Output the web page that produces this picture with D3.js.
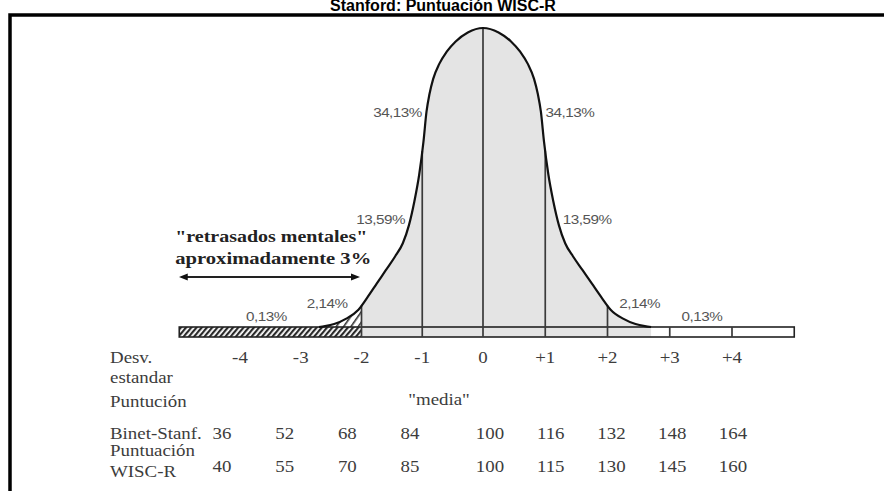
<!DOCTYPE html>
<html>
<head>
<meta charset="utf-8">
<script src="https://cdn.jsdelivr.net/npm/d3@7"></script>
<style>
	body { margin: 0; background: #fff; }
	svg { display: block; }
</style>
</head>
<body>
<svg id="chart"></svg>
<script>

var w = 884;
var h = 491;

// eje de desviaciones estandar
var sdTicks = [-4, -3, -2, -1, 0, 1, 2, 3, 4];
var sdLabels = ['-4', '-3', '-2', '-1', '0', '+1', '+2', '+3', '+4'];
var binetScores = [36, 52, 68, 84, 100, 116, 132, 148, 164];
var wiscScores = [40, 55, 70, 85, 100, 115, 130, 145, 160];

// curva (mitad derecha, se refleja)
var curveSd = [0, 0.25, 0.45, 0.6, 0.72, 0.82, 0.88, 0.93, 0.98, 1.05, 1.13, 1.22, 1.32, 1.45, 1.6, 1.75, 1.9, 2.05, 2.25, 2.45, 2.6, 2.7];
var curveH = [1.0, 0.985, 0.955, 0.92, 0.88, 0.83, 0.78, 0.72, 0.62, 0.51, 0.42, 0.34, 0.28, 0.235, 0.19, 0.145, 0.10, 0.058, 0.028, 0.01, 0.003, 0];

// porcentajes por intervalo
var pctFrom = [-4, -3, -2, -1, 0, 1, 2, 3];
var pctLabels = ['0,13%', '2,14%', '13,59%', '34,13%', '34,13%', '13,59%', '2,14%', '0,13%'];

var svg = d3.select('#chart')
	.attr('width', w)
	.attr('height', h);

var defs = svg.append('defs');

var x = d3.scaleLinear()
	.domain([-4, 0, 4])
	.range([240, 483, 732]);

var y = d3.scaleLinear()
	.domain([0, 1])
	.range([327, 28]);

var base = 337;

// columnas de la tabla de puntuaciones
var col = d3.scaleLinear()
	.domain([36, 84, 100, 164])
	.range([222, 410, 490, 733]);

var pts = [];
for (var i = curveSd.length - 1; i > 0; i--) pts.push([-curveSd[i], curveH[i]]);
for (var i = 0; i < curveSd.length; i++) pts.push([curveSd[i], curveH[i]]);

function hAt(s) {
	for (var i = 0; i < pts.length - 1; i++) {
		if (s >= pts[i][0] && s <= pts[i+1][0]) {
			var t = (s - pts[i][0]) / (pts[i+1][0] - pts[i][0]);
			return pts[i][1] + t * (pts[i+1][1] - pts[i][1]);
		}
	}
	return 0;
}

// sd donde la curva tiene altura v (lado segun signo)
function sdAt(v, side) {
	for (var i = 0; i < curveSd.length - 1; i++) {
		if (v <= curveH[i] && v >= curveH[i+1]) {
			var t = (curveH[i] - v) / (curveH[i] - curveH[i+1]);
			return side * (curveSd[i] + t * (curveSd[i+1] - curveSd[i]));
		}
	}
	return 0;
}

// texto del escaneo, algo ensanchado
function stretch(sel, k) {
	sel.each(function() {
		var n = this.getComputedTextLength();
		d3.select(this)
			.attr('textLength', n * k)
			.attr('lengthAdjust', 'spacingAndGlyphs');
	});
}

defs.append('pattern')
	.attr('id', 'hatch')
	.attr('patternUnits', 'userSpaceOnUse')
	.attr('width', 4).attr('height', 4)
	.attr('patternTransform', 'rotate(40)')
	.append('rect')
	.attr('width', 2.2).attr('height', 4)
	.attr('fill', '#2a2a2a');

defs.append('pattern')
	.attr('id', 'hatch2')
	.attr('patternUnits', 'userSpaceOnUse')
	.attr('width', 6).attr('height', 6)
	.attr('patternTransform', 'rotate(35)')
	.append('rect')
	.attr('width', 1.6).attr('height', 6)
	.attr('fill', '#333');

var arrowDef = function(id, d) {
	defs.append('marker')
		.attr('id', id)
		.attr('viewBox', '0 0 10 10')
		.attr('refX', 5).attr('refY', 5)
		.attr('markerWidth', 5).attr('markerHeight', 5)
		.attr('orient', 'auto')
		.append('path')
		.attr('d', d)
		.attr('fill', '#111');
};
arrowDef('arrEnd', 'M0,1L10,5L0,9Z');
arrowDef('arrStart', 'M10,1L0,5L10,9Z');

// marco
svg.append('rect')
	.attr('x', 10).attr('y', 15)
	.attr('width', 1000).attr('height', 1000)
	.attr('fill', 'none')
	.attr('stroke', '#000')
	.attr('stroke-width', 3.5);

svg.append('text')
	.attr('x', 443).attr('y', 11)
	.attr('text-anchor', 'middle')
	.style('font-family', '"Liberation Sans", Arial, sans-serif')
	.style('font-weight', 'bold')
	.style('font-size', '16px')
	.text('Stanford: Puntuación WISC-R');

// area gris bajo la curva
var areaPts = [[-2, hAt(-2)]].concat(pts.filter(function(p) { return p[0] > -2; }));
svg.append('path')
	.datum(areaPts)
	.attr('fill', '#e4e4e4')
	.attr('d', d3.area()
		.x(function(d) { return x(d[0]); })
		.y0(base)
		.y1(function(d) { return y(d[1]); })
		.curve(d3.curveMonotoneX));

// zona rayada bajo la curva
var hatchPts = pts.filter(function(p) { return p[0] < -2; }).concat([[-2, hAt(-2)]]);
svg.append('path')
	.datum(hatchPts)
	.attr('fill', 'url(#hatch2)')
	.attr('d', d3.area()
		.x(function(d) { return x(d[0]); })
		.y0(y(0))
		.y1(function(d) { return y(d[1]); })
		.curve(d3.curveMonotoneX));

// banda inferior
svg.append('rect')
	.attr('x', x(-5)).attr('y', y(0))
	.attr('width', x(-2) - x(-5)).attr('height', base - y(0))
	.attr('fill', 'url(#hatch)');

svg.append('rect')
	.attr('x', x(-5)).attr('y', y(0))
	.attr('width', x(5) - x(-5)).attr('height', base - y(0))
	.attr('fill', 'none')
	.attr('stroke', '#222')
	.attr('stroke-width', 1.6);

// divisiones verticales
svg.selectAll('.div')
	.data(sdTicks.filter(function(s) { return s >= -2; }))
	.enter()
	.append('line')
	.attr('class', 'div')
	.attr('x1', function(d) { return x(d); })
	.attr('x2', function(d) { return x(d); })
	.attr('y1', base)
	.attr('y2', function(d) { return Math.min(y(hAt(d)), y(0)); })
	.attr('stroke', '#3a3a3a')
	.attr('stroke-width', 1.7);

svg.append('path')
	.datum(pts)
	.attr('fill', 'none')
	.attr('stroke', '#111')
	.attr('stroke-width', 2.2)
	.attr('d', d3.line()
		.x(function(d) { return x(d[0]); })
		.y(function(d) { return y(d[1]); })
		.curve(d3.curveMonotoneX));

// porcentajes
var pctH = {'0,13%': 0.02, '2,14%': 0.064, '13,59%': 0.344, '34,13%': 0.702};
var pct = svg.selectAll('.pct')
	.data(pctLabels)
	.enter()
	.append('text')
	.attr('class', 'pct')
	.attr('x', function(d, i) {
		var a = pctFrom[i];
		if (Math.abs(a + 0.5) > 2) return x(a + 0.5) + (a < 0 ? -4 : 1);
		var side = a < 0 ? -1 : 1;
		return x(sdAt(pctH[d], side)) + side * 4;
	})
	.attr('y', function(d) { return y(pctH[d]); })
	.attr('text-anchor', function(d, i) {
		var a = pctFrom[i];
		if (Math.abs(a + 0.5) > 2) return 'middle';
		return a < 0 ? 'end' : 'start';
	})
	.style('font-family', '"Liberation Sans", Arial, sans-serif')
	.style('font-size', '12.5px')
	.style('letter-spacing', '-0.4px')
	.attr('fill', '#555')
	.text(function(d) { return d; });
stretch(pct, 1.22);

// "retrasados mentales"
var serif = '"Liberation Serif", "Times New Roman", serif';
svg.append('text')
	.attr('x', x(-5) - 4).attr('y', 242)
	.attr('textLength', 192)
	.attr('lengthAdjust', 'spacingAndGlyphs')
	.style('font-family', serif).style('font-weight', 'bold').style('font-size', '17px')
	.attr('fill', '#222')
	.text('"retrasados mentales"');
svg.append('text')
	.attr('x', x(-5) - 4).attr('y', 264)
	.attr('textLength', 196)
	.attr('lengthAdjust', 'spacingAndGlyphs')
	.style('font-family', serif).style('font-weight', 'bold').style('font-size', '17px')
	.attr('fill', '#222')
	.text('aproximadamente 3%');

svg.append('line')
	.attr('x1', x(-5) + 4).attr('x2', x(-2) - 6)
	.attr('y1', 277).attr('y2', 277)
	.attr('stroke', '#222')
	.attr('stroke-width', 1.8)
	.attr('marker-start', 'url(#arrStart)')
	.attr('marker-end', 'url(#arrEnd)');

// tabla inferior
var tbl = svg.append('g')
	.style('font-family', serif)
	.style('font-size', '16px')
	.attr('fill', '#3c3c3c');

tbl.selectAll('.sdl')
	.data(sdLabels)
	.enter()
	.append('text')
	.attr('class', 'sdl')
	.attr('x', function(d, i) { return x(sdTicks[i]); })
	.attr('y', 363)
	.attr('text-anchor', 'middle')
	.text(function(d) { return d; });

tbl.append('text').attr('x', 110).attr('y', 363).text('Desv.');
tbl.append('text').attr('x', 110).attr('y', 383).text('estandar');
tbl.append('text').attr('x', 110).attr('y', 407).text('Puntución');
tbl.append('text').attr('x', x(-1) - 14).attr('y', 405).text('"media"');
tbl.append('text').attr('x', 110).attr('y', 439).text('Binet-Stanf.');
tbl.append('text').attr('x', 110).attr('y', 456).text('Puntuación');
tbl.append('text').attr('x', 110).attr('y', 477).text('WISC-R');

tbl.selectAll('.bs')
	.data(binetScores)
	.enter()
	.append('text')
	.attr('x', function(d) { return col(d); })
	.attr('y', 439)
	.attr('text-anchor', 'middle')
	.text(function(d) { return d; });

tbl.selectAll('.ws')
	.data(wiscScores)
	.enter()
	.append('text')
	.attr('x', function(d, i) { return col(binetScores[i]); })
	.attr('y', 472)
	.attr('text-anchor', 'middle')
	.text(function(d) { return d; });

stretch(tbl.selectAll('text'), 1.18);

</script>
</body>
</html>
